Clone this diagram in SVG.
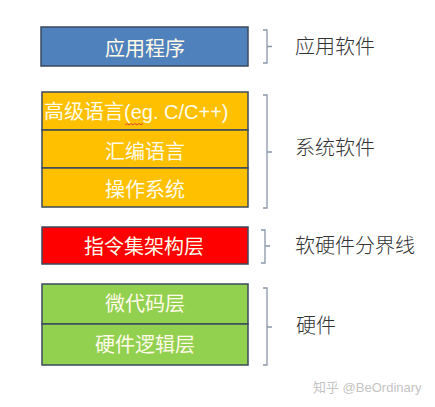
<svg xmlns="http://www.w3.org/2000/svg" width="435" height="407" viewBox="0 0 435 407">
<style>
.box{stroke:#3b4a5c;stroke-width:1.5}
.bt{font-family:"Liberation Sans","Noto Sans CJK SC",sans-serif;font-size:20px;fill:#fffbe8;text-anchor:middle}
.lb{font-family:"Noto Sans CJK SC",sans-serif;font-size:20px;fill:#333;font-weight:300}
.br{fill:none;stroke:#8a96a8;stroke-width:1.3}
</style>
<rect width="435" height="407" fill="#fff"/>
<g id="app">
<rect class="box" x="41" y="27" width="207" height="39" fill="#4f81bd"/>
<text class="bt" x="145" y="56">应用程序</text>
</g>
<g id="hll">
<rect class="box" x="42" y="92" width="206" height="38" fill="#ffc000"/>
<text class="bt" x="44" y="119" style="text-anchor:start">高级语言(eg. C/C++)</text>
<path d="M125,125 l2,-1.5 l2,1.5 l2,-1.5 l2,1.5 l2,-1.5 l2,1.5 l2,-1.5 l2,1.5 l2,-1.5" fill="none" stroke="#e03030" stroke-width="0.8"/>
</g>
<g id="asm">
<rect class="box" x="42" y="130" width="206" height="38" fill="#ffc000"/>
<text class="bt" x="145" y="159">汇编语言</text>
</g>
<g id="os">
<rect class="box" x="42" y="168" width="206" height="39" fill="#ffc000"/>
<text class="bt" x="145" y="197">操作系统</text>
</g>
<g id="isa">
<rect class="box" x="42" y="227" width="206" height="37" fill="#ff0000"/>
<text class="bt" x="144" y="254">指令集架构层</text>
</g>
<g id="micro">
<rect class="box" x="42" y="284" width="206" height="40" fill="#92d050"/>
<text class="bt" x="145" y="311">微代码层</text>
</g>
<g id="logic">
<rect class="box" x="42" y="324" width="206" height="41" fill="#92d050"/>
<text class="bt" x="145" y="352">硬件逻辑层</text>
</g>
<g id="connectors">
<path class="br" d="M263,30 h4 v33 h-4 M267,46.5 h5"/>
<path class="br" d="M263,95 h4 v113 h-4 M267,152 h5"/>
<path class="br" d="M261,230 h4 v33 h-4 M265,246 h5"/>
<path class="br" d="M263,288 h4 v77 h-4 M267,327 h5"/>
</g>
<g id="labels">
<text class="lb" x="295" y="54">应用软件</text>
<text class="lb" x="295" y="155">系统软件</text>
<text class="lb" x="295" y="253">软硬件分界线</text>
<text class="lb" x="296" y="333">硬件</text>
</g>
<text x="313" y="392" font-family="'Liberation Sans','Noto Sans CJK SC',sans-serif" font-size="13" fill="#c4c4c4">知乎 @BeOrdinary</text>
</svg>
